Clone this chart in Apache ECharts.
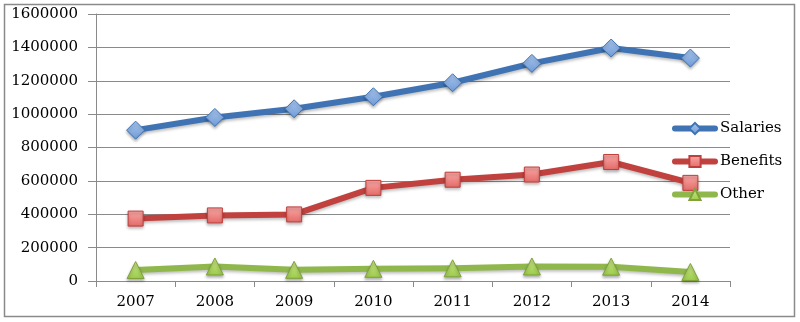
<!DOCTYPE html>
<html>
<head>
<meta charset="utf-8">
<script src="https://cdn.jsdelivr.net/npm/echarts@6/dist/echarts.min.js"></script>
<style>
  html, body { margin: 0; padding: 0; background: #ffffff; }
  #chart { width: 800px; height: 322px; }
</style>
</head>
<body>
<div id="chart"></div>
<script>
// Yearly spending by category
const years = ['2007', '2008', '2009', '2010', '2011', '2012', '2013', '2014'];
const salaries = [904000, 980000, 1032000, 1104000, 1188000, 1304000, 1396000, 1336000];
const benefits = [374000, 393000, 399000, 558000, 607000, 638000, 713000, 588000];
const other = [66000, 87000, 67000, 73000, 76000, 87000, 86000, 54000];

const FONT = 'DejaVu Serif';

function markerFill(light, dark) {
  return new echarts.graphic.LinearGradient(0, 0, 0, 1, [
    { offset: 0, color: light },
    { offset: 1, color: dark }
  ]);
}

function lineSeries(name, data, color, symbol, size, fillLight, fillDark, border) {
  return {
    name: name,
    type: 'line',
    data: data,
    symbol: symbol,
    symbolSize: size,
    showAllSymbol: true,
    lineStyle: {
      color: color,
      width: 6,
      cap: 'round',
      join: 'round',
      shadowColor: 'rgba(0,0,0,0.25)',
      shadowBlur: 3,
      shadowOffsetY: 2
    },
    itemStyle: {
      color: markerFill(fillLight, fillDark),
      borderColor: border,
      borderWidth: 1,
      shadowColor: 'rgba(0,0,0,0.3)',
      shadowBlur: 3,
      shadowOffsetY: 2
    },
    emphasis: { disabled: true },
    animation: false
  };
}

const chart = echarts.init(document.getElementById('chart'), null, { renderer: 'canvas' });

chart.setOption({
  backgroundColor: '#ffffff',
  animation: false,
  grid: { left: 96, right: 70, top: 14, bottom: 41, containLabel: false },
  graphic: [{
    type: 'rect',
    shape: { x: 4.5, y: 4.5, width: 790, height: 312 },
    style: { fill: 'none', stroke: '#8a8a8a', lineWidth: 1.5 },
    silent: true,
    z: -1
  }],
  legend: {
    orient: 'vertical',
    left: 667,
    top: 116,
    itemWidth: 40,
    itemHeight: 14,
    itemGap: 18,
    lineStyle: { width: 6, cap: 'round' },
    textStyle: { fontFamily: FONT, fontSize: 15, color: '#000' },
    data: ['Salaries', 'Benefits', 'Other']
  },
  xAxis: {
    type: 'category',
    data: years,
    boundaryGap: true,
    axisLine: { show: true, lineStyle: { color: '#8a8a8a', width: 1 } },
    axisTick: { show: true, length: 6, inside: false, lineStyle: { color: '#8a8a8a' } },
    axisLabel: { fontFamily: FONT, fontSize: 15, color: '#000', margin: 14 },
    splitLine: { show: false }
  },
  yAxis: {
    type: 'value',
    min: 0,
    max: 1600000,
    interval: 200000,
    axisLine: { show: true, lineStyle: { color: '#8a8a8a', width: 1 } },
    axisTick: { show: true, length: 8, inside: false, lineStyle: { color: '#8a8a8a' } },
    axisLabel: {
      fontFamily: FONT, fontSize: 15, color: '#000', margin: 18,
      formatter: function (v) { return String(v); }
    },
    splitLine: { show: true, lineStyle: { color: '#8a8a8a', width: 1 } }
  },
  series: [
    lineSeries('Salaries', salaries, '#3f73b4', 'diamond', 18, '#a9c6ee', '#6f9ad6', '#3f73b4'),
    lineSeries('Benefits', benefits, '#c0413e', 'rect', 15, '#f9a9a7', '#e46a67', '#bf3f3c'),
    lineSeries('Other', other, '#8fb74c', 'triangle', 17, '#cbe88a', '#9ccb4a', '#7fa23b')
  ]
});
</script>
</body>
</html>
